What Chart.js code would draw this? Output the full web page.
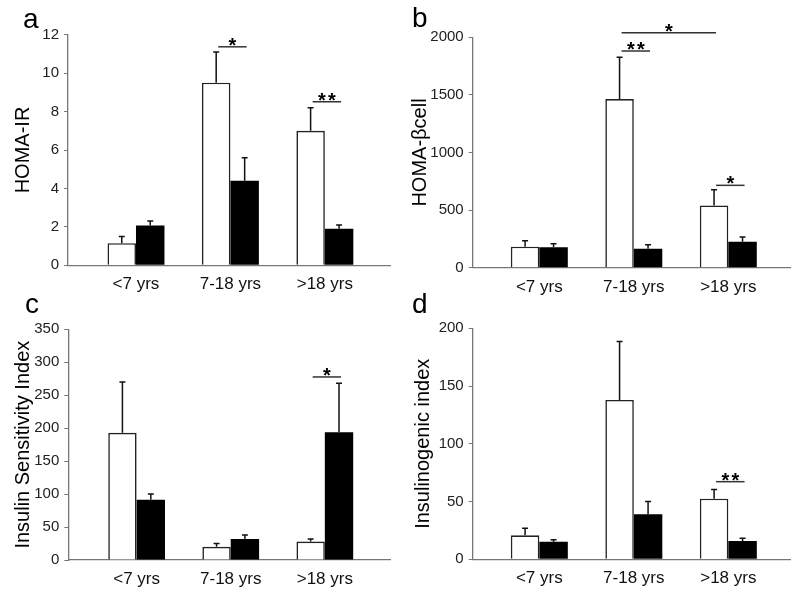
<!DOCTYPE html>
<html>
<head>
<meta charset="utf-8">
<script src="https://cdn.jsdelivr.net/npm/chart.js@4.4.1/dist/chart.umd.min.js"></script>
<style>
  html, body { margin: 0; padding: 0; background: #fff; }
  body { width: 800px; height: 596px; position: relative; overflow: hidden; }
  .panel { position: absolute; }
</style>
</head>
<body>
<div class="panel" style="left:0;top:0;width:400px;height:296px"><canvas id="chartA"></canvas></div>
<div class="panel" style="left:400px;top:0;width:400px;height:296px"><canvas id="chartB"></canvas></div>
<div class="panel" style="left:0;top:285px;width:400px;height:311px"><canvas id="chartC"></canvas></div>
<div class="panel" style="left:400px;top:285px;width:400px;height:311px"><canvas id="chartD"></canvas></div>
<script>
const categories = ['<7 yrs', '7-18 yrs', '>18 yrs'];

// a - HOMA-IR (mean and upper SE)
const homaIrWhite = [1.15, 9.5, 7.0];
const homaIrWhiteErr = [0.35, 1.6, 1.2];
const homaIrBlack = [2.07, 4.4, 1.9];
const homaIrBlackErr = [0.23, 1.2, 0.2];
const homaIrTicks = [0, 2, 4, 6, 8, 10, 12];
const homaIrSig = [
    { from: [1, 0], to: [1, 1], level: 11.37, stars: 1 },
    { from: [2, 0], to: [2, 1], level: 8.51, stars: 2 }
];

// b - HOMA-beta cell
const homaBetaWhite = [182, 1464, 540];
const homaBetaWhiteErr = [52, 362, 137];
const homaBetaBlack = [177, 165, 226];
const homaBetaBlackErr = [31, 35, 40];
const homaBetaTicks = [0, 500, 1000, 1500, 2000];
const homaBetaSig = [
    { from: [1, 0], to: [1, 1], level: 1881, stars: 2 },
    { from: [1, 0], to: [2, 0], level: 2040, stars: 1 },
    { from: [2, 0], to: [2, 1], level: 715, stars: 1 }
];

// c - Insulin sensitivity index
const sensWhite = [193, 20, 28];
const sensWhiteErr = [77, 5, 4];
const sensBlack = [91.5, 32, 194];
const sensBlackErr = [8.5, 6, 74];
const sensTicks = [0, 50, 100, 150, 200, 250, 300, 350];
const sensSig = [
    { from: [2, 0], to: [2, 1], level: 277.7, stars: 1 }
];

// d - Insulinogenic index
const insWhite = [20.8, 138, 52.5];
const insWhiteErr = [6, 50.5, 8];
const insBlack = [15.2, 39, 15.8];
const insBlackErr = [1.8, 11, 2.4];
const insTicks = [0, 50, 100, 150, 200];
const insSig = [
    { from: [2, 0], to: [2, 1], level: 67.2, stars: 2 }
];

const FONT = '"Liberation Sans", Arial, Helvetica, sans-serif';

// error bars, significance brackets and the panel letter
function makeExtras(letter, letterPos, sig) {
    return {
        id: 'extras',
        afterDatasetsDraw(chart) {
            const ctx = chart.ctx;
            const yScale = chart.scales.y;
            ctx.save();
            ctx.strokeStyle = '#111';
            ctx.lineWidth = 1.5;
            chart.data.datasets.forEach((ds, di) => {
                const meta = chart.getDatasetMeta(di);
                meta.data.forEach((bar, i) => {
                    const top = yScale.getPixelForValue(ds.data[i].y + ds.errors[i]);
                    ctx.beginPath();
                    ctx.moveTo(bar.x, bar.y);
                    ctx.lineTo(bar.x, top);
                    ctx.moveTo(bar.x - 3, top);
                    ctx.lineTo(bar.x + 3, top);
                    ctx.stroke();
                });
            });

            ctx.strokeStyle = '#333';
            ctx.fillStyle = '#000';
            ctx.font = 'bold 20px ' + FONT;
            ctx.textAlign = 'center';
            ctx.textBaseline = 'alphabetic';
            sig.forEach(s => {
                const x1 = chart.getDatasetMeta(s.from[1]).data[s.from[0]].x + 2;
                const x2 = chart.getDatasetMeta(s.to[1]).data[s.to[0]].x + 2;
                const y = yScale.getPixelForValue(s.level);
                ctx.beginPath();
                ctx.moveTo(x1, y);
                ctx.lineTo(x2, y);
                ctx.stroke();
                const mid = (x1 + x2) / 2;
                for (let k = 0; k < s.stars; k++) {
                    ctx.fillText('*', mid + (k - (s.stars - 1) / 2) * 10, y + 5);
                }
            });

            ctx.font = '28px ' + FONT;
            ctx.textAlign = 'left';
            ctx.fillText(letter, letterPos[0], letterPos[1]);
            ctx.restore();
        }
    };
}

function drawPanel(id, p) {
    return new Chart(document.getElementById(id), {
        type: 'bar',
        data: {
            datasets: [
                {
                    data: p.white.map((v, i) => ({ x: i, y: v })),
                    errors: p.whiteErr,
                    backgroundColor: '#ffffff',
                    borderColor: '#222',
                    borderWidth: 1.6
                },
                {
                    data: p.black.map((v, i) => ({ x: i, y: v })),
                    errors: p.blackErr,
                    backgroundColor: '#000000',
                    borderColor: '#000000',
                    borderWidth: 0
                }
            ]
        },
        options: {
            responsive: true,
            maintainAspectRatio: false,
            animation: false,
            events: [],
            categoryPercentage: 0.603,
            barPercentage: 1,
            layout: { padding: { left: 0, top: p.top, right: p.right, bottom: 0 } },
            plugins: { legend: { display: false }, tooltip: { enabled: false } },
            scales: {
                x: {
                    type: 'linear',
                    min: p.xMin,
                    max: p.xMax,
                    offset: false,
                    grid: { display: false, drawTicks: false, offset: false },
                    border: { display: true, color: '#777', width: 1.3 },
                    afterBuildTicks: s => { s.ticks = categories.map((c, i) => ({ value: i })); },
                    afterFit: s => { s.height = p.xAxisH; },
                    ticks: {
                        autoSkip: false,
                        maxRotation: 0,
                        padding: 9,
                        color: '#111',
                        font: { family: FONT, size: 17 },
                        callback: v => categories[v]
                    }
                },
                y: {
                    min: p.ticks[0],
                    max: p.ticks[p.ticks.length - 1],
                    afterBuildTicks: s => { s.ticks = p.ticks.map(v => ({ value: v })); },
                    afterFit: s => { s.width = p.left; },
                    grid: { drawOnChartArea: false, drawTicks: true, tickLength: 4, color: '#777', lineWidth: 1 },
                    border: { display: true, color: '#777', width: 1.3 },
                    ticks: {
                        padding: 5,
                        color: '#222',
                        font: { family: FONT, size: 15 },
                        callback: v => String(v)
                    },
                    title: {
                        display: true,
                        text: p.title,
                        color: '#000',
                        padding: { top: p.titlePad, bottom: 0 },
                        font: { family: FONT, size: 20 }
                    }
                }
            }
        },
        plugins: [makeExtras(p.letter, p.letterPos, p.sig)]
    });
}

drawPanel('chartA', {
    white: homaIrWhite, whiteErr: homaIrWhiteErr, black: homaIrBlack, blackErr: homaIrBlackErr,
    ticks: homaIrTicks, sig: homaIrSig, title: 'HOMA-IR', letter: 'a', letterPos: [23, 28],
    left: 68, top: 34.7, right: 10, xAxisH: 30.7, titlePad: 11, xMin: -0.72, xMax: 2.69
});
drawPanel('chartB', {
    white: homaBetaWhite, whiteErr: homaBetaWhiteErr, black: homaBetaBlack, blackErr: homaBetaBlackErr,
    ticks: homaBetaTicks, sig: homaBetaSig, title: 'HOMA-\u03B2cell', letter: 'b', letterPos: [12, 27],
    left: 72.7, top: 37.3, right: 10, xAxisH: 28.3, titlePad: 8, xMin: -0.705, xMax: 2.653
});
drawPanel('chartC', {
    white: sensWhite, whiteErr: sensWhiteErr, black: sensBlack, blackErr: sensBlackErr,
    ticks: sensTicks, sig: sensSig, title: 'Insulin Sensitivity Index', letter: 'c', letterPos: [25, 28],
    left: 68.3, top: 44.3, right: 9.3, xAxisH: 36, titlePad: 11, xMin: -0.726, xMax: 2.70
});
drawPanel('chartD', {
    white: insWhite, whiteErr: insWhiteErr, black: insBlack, blackErr: insBlackErr,
    ticks: insTicks, sig: insSig, title: 'Insulinogenic index', letter: 'd', letterPos: [12, 28],
    left: 72.7, top: 43.3, right: 9.3, xAxisH: 36.7, titlePad: 11, xMin: -0.705, xMax: 2.66
});
</script>
</body>
</html>
